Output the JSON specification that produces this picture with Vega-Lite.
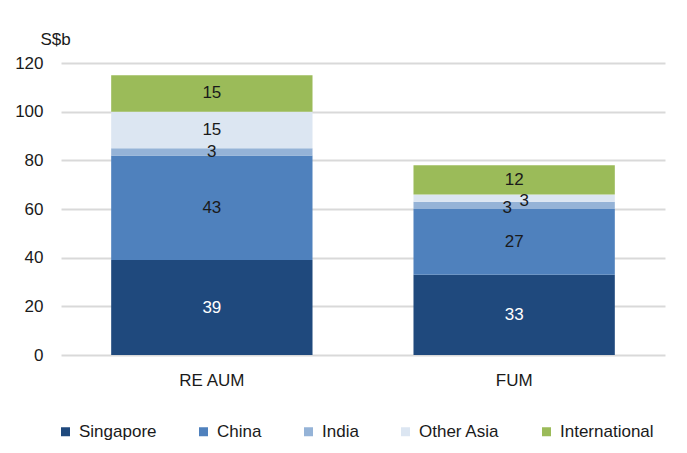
{
  "$schema": "https://vega.github.io/schema/vega-lite/v6.json",
  "width": 604,
  "height": 292,
  "autosize": {"type": "none"},
  "padding": {"left": 61, "top": 63, "right": 22, "bottom": 98},
  "background": "white",
  "config": {
    "font": "Liberation Sans",
    "view": {"stroke": null},
    "axis": {"labelFont": "Liberation Sans", "labelFontSize": 17, "labelColor": "#1a1a1a", "titleFont": "Liberation Sans"},
    "legend": {"labelFont": "Liberation Sans", "labelFontSize": 17, "labelColor": "#1a1a1a"}
  },
  "data": {
    "values": [
      {"category": "RE AUM", "region": "Singapore", "value": 39, "order": 1},
      {"category": "RE AUM", "region": "China", "value": 43, "order": 2},
      {"category": "RE AUM", "region": "India", "value": 3, "order": 3},
      {"category": "RE AUM", "region": "Other Asia", "value": 15, "order": 4},
      {"category": "RE AUM", "region": "International", "value": 15, "order": 5},
      {"category": "FUM", "region": "Singapore", "value": 33, "order": 1},
      {"category": "FUM", "region": "China", "value": 27, "order": 2},
      {"category": "FUM", "region": "India", "value": 3, "order": 3},
      {"category": "FUM", "region": "Other Asia", "value": 3, "order": 4},
      {"category": "FUM", "region": "International", "value": 12, "order": 5}
    ]
  },
  "encoding": {
    "x": {
      "field": "category",
      "type": "nominal",
      "sort": ["RE AUM", "FUM"],
      "scale": {"paddingInner": 0.334, "paddingOuter": 0.166},
      "axis": {"title": null, "labelAngle": 0, "ticks": false, "domain": false, "labelPadding": 17}
    }
  },
  "layer": [
    {
      "mark": {"type": "bar"},
      "encoding": {
        "y": {
          "field": "value",
          "type": "quantitative",
          "stack": "zero",
          "scale": {"domain": [0, 120]},
          "axis": {
            "values": [0, 20, 40, 60, 80, 100, 120],
            "title": "S$b",
            "titleAngle": 0,
            "titleAlign": "left",
            "titleBaseline": "middle",
            "titleX": -21,
            "titleY": -24,
            "titleFontSize": 17,
            "titleFontWeight": "normal",
            "titleColor": "#1a1a1a",
            "ticks": false,
            "domain": false,
            "labelPadding": 18,
            "gridColor": "#d9d9d9",
            "gridWidth": 2
          }
        },
        "order": {"field": "order", "type": "quantitative"},
        "color": {
          "field": "region",
          "type": "nominal",
          "scale": {
            "domain": ["Singapore", "China", "India", "Other Asia", "International"],
            "range": ["#1F497D", "#4F81BD", "#95B3D7", "#DCE6F2", "#9BBB59"]
          },
          "legend": {
            "title": null,
            "orient": "none",
            "direction": "horizontal",
            "legendX": -4,
            "legendY": 360,
            "padding": 0,
            "symbolType": "square",
            "symbolSize": 81,
            "symbolStrokeWidth": 0,
            "symbolOpacity": 1,
            "labelOffset": 5,
            "columnPadding": 38
          }
        }
      }
    },
    {
      "mark": {"type": "text", "fontSize": 17, "baseline": "middle", "align": "center"},
      "encoding": {
        "y": {"field": "value", "type": "quantitative", "stack": "zero", "bandPosition": 0.5},
        "order": {"field": "order", "type": "quantitative"},
        "text": {"field": "value", "type": "quantitative"},
        "opacity": {"condition": {"test": "datum.category == 'FUM' && (datum.region == 'India' || datum.region == 'Other Asia')", "value": 0}, "value": 1},
        "color": {"condition": {"test": "datum.region == 'Singapore'", "value": "white"}, "value": "#1a1a1a"}
      }
    },
    {
      "transform": [
        {"stack": "value", "groupby": ["category"], "sort": [{"field": "order", "order": "ascending"}], "as": ["v0", "v1"]},
        {"filter": "datum.category == 'FUM' && datum.region == 'India'"}
      ],
      "mark": {"type": "text", "fontSize": 17, "baseline": "middle", "align": "center", "dx": -7, "dy": -1, "color": "#1a1a1a"},
      "encoding": {
        "y": {"field": "v0", "type": "quantitative"},
        "text": {"field": "value", "type": "quantitative"}
      }
    },
    {
      "transform": [
        {"stack": "value", "groupby": ["category"], "sort": [{"field": "order", "order": "ascending"}], "as": ["v0", "v1"]},
        {"filter": "datum.category == 'FUM' && datum.region == 'Other Asia'"}
      ],
      "mark": {"type": "text", "fontSize": 17, "baseline": "middle", "align": "center", "dx": 10, "dy": -1, "color": "#1a1a1a"},
      "encoding": {
        "y": {"field": "v0", "type": "quantitative"},
        "text": {"field": "value", "type": "quantitative"}
      }
    }
  ]
}
